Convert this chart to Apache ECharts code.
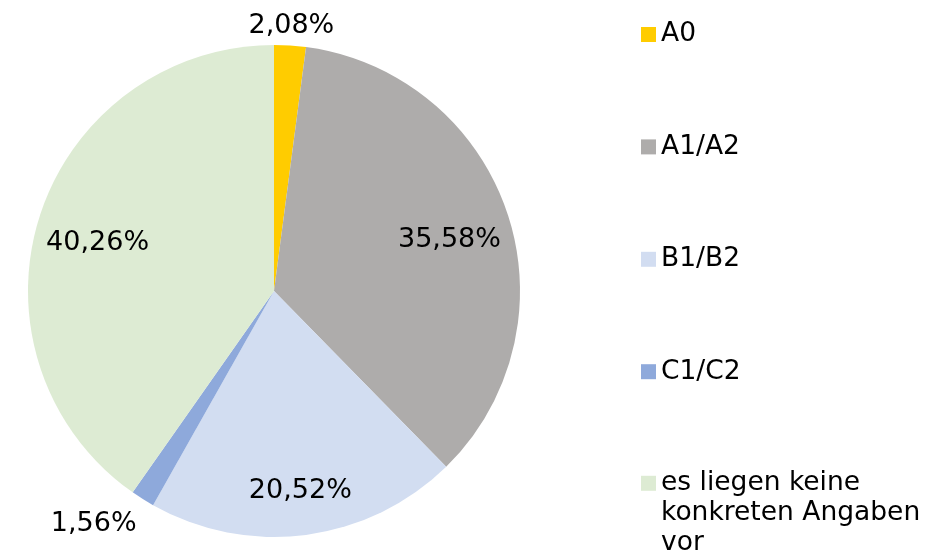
<!DOCTYPE html>
<html>
<head>
<meta charset="utf-8">
<script src="https://cdn.jsdelivr.net/npm/echarts@6/dist/echarts.min.js"></script>
<style>html,body{margin:0;padding:0;background:#fff;}#c{width:950px;height:560px;}</style>
</head>
<body>
<div id="c"></div>
<script>
const categories = ['A0', 'A1/A2', 'B1/B2', 'C1/C2', 'es liegen keine konkreten Angaben vor'];
const values = [2.08, 35.58, 20.52, 1.56, 40.26];
const colors = ['#FFCC00', '#AEACAB', '#D2DDF1', '#8EA9DB', '#DDEBD3'];
const outsideLabels = ['A0', 'C1/C2'];
const farInsideLabels = ['B1/B2'];

const FONT = 'DejaVu Sans';
const fmt = v => v.toFixed(2).replace('.', ',') + '%';
const CX = 274, CY = 291, R = 246;

const outsideLine = {
  'A0': { length: 19.5, length2: 0 },
  'C1/C2': { length: 30, length2: 33 }
};

const mainData = categories.map((c, i) => {
  const isOut = outsideLabels.indexOf(c) >= 0;
  const d = { name: c, value: values[i], itemStyle: { color: colors[i] } };
  d.label = { show: isOut };
  if (isOut) d.labelLine = { show: false, length: outsideLine[c].length, length2: outsideLine[c].length2 };
  return d;
});

const nearData = categories.map((c, i) => ({
  name: c, value: values[i],
  label: { show: outsideLabels.indexOf(c) < 0 && farInsideLabels.indexOf(c) < 0 }
}));
const farData = categories.map((c, i) => ({
  name: c, value: values[i],
  label: { show: farInsideLabels.indexOf(c) >= 0 }
}));

const labelStyle = { fontFamily: FONT, fontSize: 27, color: '#000', formatter: p => fmt(p.value) };
const legendText = { fontFamily: FONT, fontSize: 26.5, color: '#000', lineHeight: 30 };

function labelRing(inner, data, offset) {
  return {
    type: 'pie',
    center: [CX, CY], radius: [inner, R],
    startAngle: 90, clockwise: true,
    silent: true,
    avoidLabelOverlap: false,
    itemStyle: { color: 'rgba(0,0,0,0)', borderWidth: 0 },
    label: Object.assign({ position: 'inside', offset: offset }, labelStyle),
    labelLine: { show: false },
    data: data
  };
}

const chart = echarts.init(document.getElementById('c'), null, { renderer: 'canvas' });
chart.setOption({
  animation: false,
  backgroundColor: '#fff',
  legend: [{
    orient: 'vertical', left: 641, top: 19.5, padding: 0,
    itemWidth: 15, itemHeight: 15, itemGap: 82.4, icon: 'rect',
    data: categories.slice(0, 4),
    textStyle: legendText
  }, {
    orient: 'vertical', left: 641, top: 408.3, padding: 0,
    itemWidth: 15, itemHeight: 15, icon: 'rect',
    data: categories.slice(4),
    formatter: () => '\n\nes liegen keine\nkonkreten Angaben\nvor',
    textStyle: legendText
  }],
  series: [{
    type: 'pie',
    center: [CX, CY], radius: [0, R],
    startAngle: 90, clockwise: true,
    avoidLabelOverlap: false,
    emphasis: { scale: false },
    itemStyle: { borderWidth: 0 },
    label: Object.assign({ position: 'outside', distanceToLabelLine: 0 }, labelStyle),
    labelLine: { show: false },
    labelLayout: () => ({ align: 'center', verticalAlign: 'middle' }),
    data: mainData
  },
  labelRing(118, nearData, [0, 8]),
  labelRing(152, farData, [0, 0])
  ]
});
</script>
</body>
</html>
